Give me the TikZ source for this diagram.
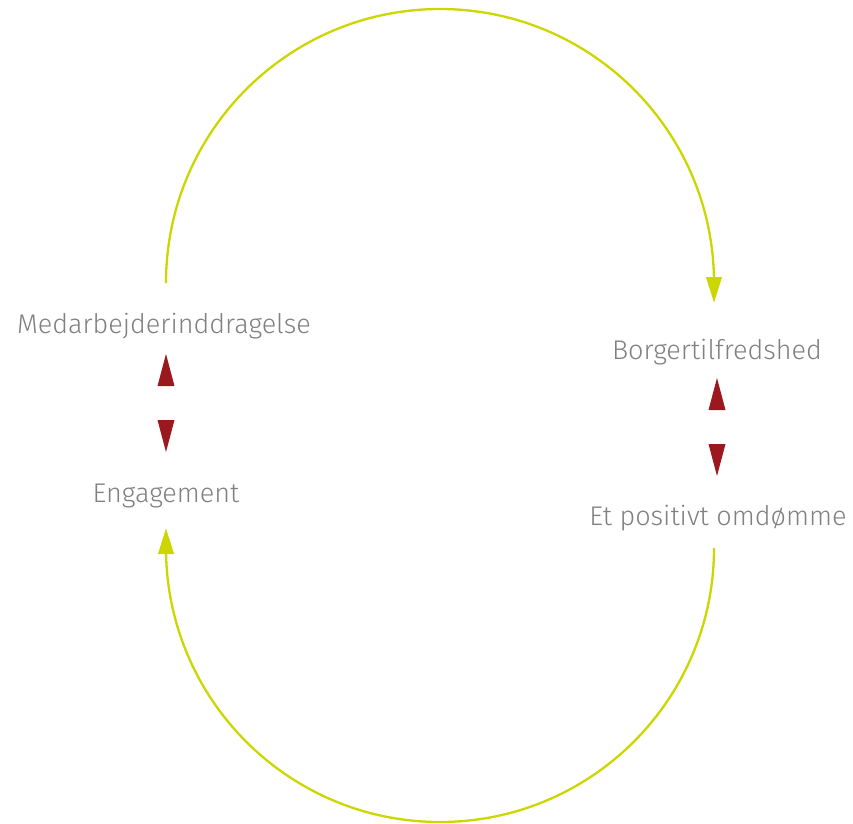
\documentclass[tikz,border=0pt]{standalone}
\usepackage{fontspec}
\setmainfont{Fira Sans Light}
\usetikzlibrary{positioning}
\definecolor{loopgreen}{RGB}{204,214,0}
\definecolor{tipred}{RGB}{155,24,30}
\definecolor{labelgray}{RGB}{128,128,128}
\tikzset{
  uptip/.pic={
    \fill (-8.5,0) -- (8.5,0) -- (0,-32) -- cycle;
  },
  downtip/.pic={
    \fill (-8.5,0) -- (8.5,0) -- (0,32) -- cycle;
  },
  txt/.style={text=labelgray, font=\fontsize{27}{31}\selectfont, inner sep=0pt, anchor=base},
  loopline/.style={draw=loopgreen, line width=2.3pt}
}

\begin{document}
\begin{tikzpicture}[x=1pt, y=-1pt]
\useasboundingbox (0,0) rectangle (853,823);
\node[txt] (medarb) at (164,333) {Medarbejderinddragelse};
\node[txt] (engag) at (166,502) {Engagement};
\node[txt] (borger) at (717,359) {Borgertilfredshed};
\node[txt] (omdomme) at (718,525) {Et positivt omdømme};
\coordinate (ltop) at (166,283);
\coordinate (rtop) at (714,283);
\coordinate (rbot) at (714,548);
\coordinate (lbot) at (166,548);
\draw[loopline] (ltop) arc[start angle=180, end angle=360, radius=274] -- (714,290);
\draw[loopline] (rbot) arc[start angle=0, end angle=180, radius=274] -- (166,540);
\pic[loopgreen, yscale=.8, xscale=.95] at (714,277) {downtip};
\pic[loopgreen, yscale=.8, xscale=.95] at (166,554) {uptip};
\pic[tipred] at (166,386) {uptip};
\pic[tipred] at (166,420) {downtip};
\pic[tipred] at (717,410) {uptip};
\pic[tipred] at (717,444) {downtip};
\end{tikzpicture}
\end{document}
